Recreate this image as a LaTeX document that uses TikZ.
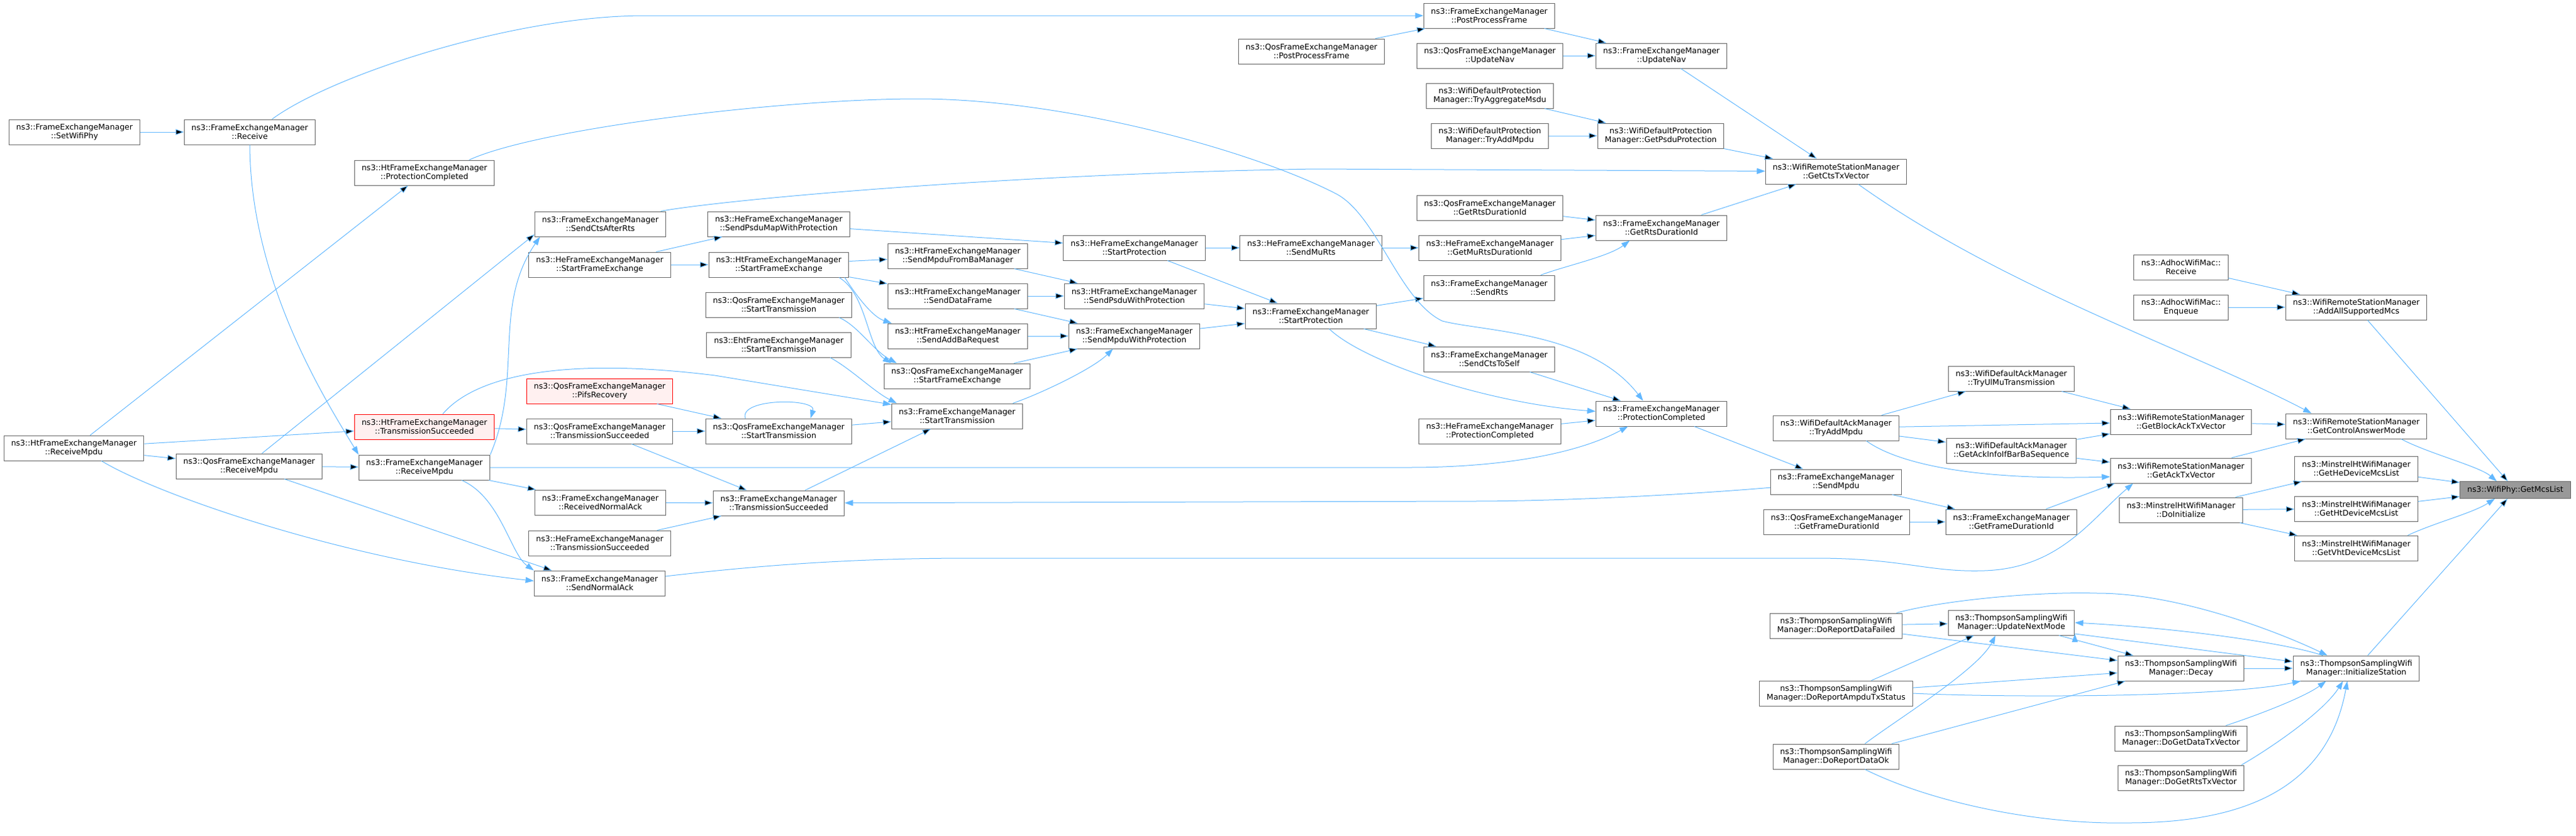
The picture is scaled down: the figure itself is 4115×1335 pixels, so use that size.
\documentclass[tikz,border=0pt]{standalone}
\usepackage{fontspec}
\setmainfont{DejaVu Sans}
\usetikzlibrary{arrows.meta}
\definecolor{edgeblue}{HTML}{63B8FF}
\definecolor{boxgrey}{HTML}{666666}
\definecolor{redfill}{HTML}{FFF0F0}
\definecolor{focusfill}{HTML}{999999}

\begin{document}
\begin{tikzpicture}[x=0.75pt,y=-0.75pt,>={Triangle[length=10pt,width=7pt]},
	fn/.style={draw=boxgrey,fill=white,line width=0.75pt,align=center,inner xsep=8.7pt,inner ysep=0pt,minimum height=30pt,font=\fontsize{9.4}{10.5}\selectfont},
	fnred/.style={fn,draw=red,fill=redfill},
	fnfocus/.style={fn,fill=focusfill,minimum height=20pt},
	call/.style={->,draw=edgeblue,line width=0.75pt}]
	\useasboundingbox (0,0) rectangle (4115,1335);

	\node[fn]    (setwifiphy)      at (119,211)  {ns3::FrameExchangeManager\\::SetWifiPhy};
	\node[fn]    (receive)         at (399,211)  {ns3::FrameExchangeManager\\::Receive};
	\node[fn]    (htprotcompl)     at (678,276)  {ns3::HtFrameExchangeManager\\::ProtectionCompleted};
	\node[fn]    (htreceivempdu)   at (118,716)  {ns3::HtFrameExchangeManager\\::ReceiveMpdu};
	\node[fn]    (qosreceivempdu)  at (398,745)  {ns3::QosFrameExchangeManager\\::ReceiveMpdu};
	\node[fnred] (httxsucc)        at (678,682)  {ns3::HtFrameExchangeManager\\::TransmissionSucceeded};
	\node[fn]    (fereceivempdu)   at (678,747)  {ns3::FrameExchangeManager\\::ReceiveMpdu};
	\node[fn]    (sendctsafterrts) at (959,358)  {ns3::FrameExchangeManager\\::SendCtsAfterRts};
	\node[fn]    (hestartfe)       at (958,423)  {ns3::HeFrameExchangeManager\\::StartFrameExchange};
	\node[fnred] (pifsrecovery)    at (958,625)  {ns3::QosFrameExchangeManager\\::PifsRecovery};
	\node[fn]    (qostxsucc)       at (958,689)  {ns3::QosFrameExchangeManager\\::TransmissionSucceeded};
	\node[fn]    (rcvnormalack)    at (959,803)  {ns3::FrameExchangeManager\\::ReceivedNormalAck};
	\node[fn]    (hetxsucc)        at (958,868)  {ns3::HeFrameExchangeManager\\::TransmissionSucceeded};
	\node[fn]    (sendnormalack)   at (958,932)  {ns3::FrameExchangeManager\\::SendNormalAck};
	\node[fn]    (sendpsdumap)     at (1244,358) {ns3::HeFrameExchangeManager\\::SendPsduMapWithProtection};
	\node[fn]    (htstartfe)       at (1244,423) {ns3::HtFrameExchangeManager\\::StartFrameExchange};
	\node[fn]    (qosstarttx1)     at (1244,487) {ns3::QosFrameExchangeManager\\::StartTransmission};
	\node[fn]    (ehtstarttx)      at (1244,551) {ns3::EhtFrameExchangeManager\\::StartTransmission};
	\node[fn]    (qosstarttx2)     at (1244,689) {ns3::QosFrameExchangeManager\\::StartTransmission};
	\node[fn]    (fetxsucc)        at (1244,804) {ns3::FrameExchangeManager\\::TransmissionSucceeded};
	\node[fn]    (sendmpdufromba)  at (1530,409) {ns3::HtFrameExchangeManager\\::SendMpduFromBaManager};
	\node[fn]    (senddataframe)   at (1530,473) {ns3::HtFrameExchangeManager\\::SendDataFrame};
	\node[fn]    (sendaddba)       at (1530,537) {ns3::HtFrameExchangeManager\\::SendAddBaRequest};
	\node[fn]    (qosstartfe)      at (1529,601) {ns3::QosFrameExchangeManager\\::StartFrameExchange};
	\node[fn]    (festarttx)       at (1529,665) {ns3::FrameExchangeManager\\::StartTransmission};
	\node[fn]    (hestartprot)     at (1812,396) {ns3::HeFrameExchangeManager\\::StartProtection};
	\node[fn]    (sendpsduwp)      at (1812,473) {ns3::HtFrameExchangeManager\\::SendPsduWithProtection};
	\node[fn]    (sendmpduwp)      at (1812,537) {ns3::FrameExchangeManager\\::SendMpduWithProtection};
	\node[fn]    (hesendmurts)     at (2094,396) {ns3::HeFrameExchangeManager\\::SendMuRts};
	\node[fn]    (festartprot)     at (2094,505) {ns3::FrameExchangeManager\\::StartProtection};
	\node[fn]    (qospostproc)     at (2095,82)  {ns3::QosFrameExchangeManager\\::PostProcessFrame};
	\node[fn]    (fepostproc)      at (2379,25)  {ns3::FrameExchangeManager\\::PostProcessFrame};
	\node[fn]    (qosupdatenav)    at (2380,89)  {ns3::QosFrameExchangeManager\\::UpdateNav};
	\node[fn]    (tryaggmsdu)      at (2380,153) {ns3::WifiDefaultProtection\\Manager::TryAggregateMsdu};
	\node[fn]    (protaddmpdu)     at (2380,217) {ns3::WifiDefaultProtection\\Manager::TryAddMpdu};
	\node[fn]    (qosgetrtsdur)    at (2380,332) {ns3::QosFrameExchangeManager\\::GetRtsDurationId};
	\node[fn]    (hegetmurtsdur)   at (2380,396) {ns3::HeFrameExchangeManager\\::GetMuRtsDurationId};
	\node[fn]    (sendrts)         at (2379,460) {ns3::FrameExchangeManager\\::SendRts};
	\node[fn]    (sendctstoself)   at (2379,574) {ns3::FrameExchangeManager\\::SendCtsToSelf};
	\node[fn]    (heprotcompl)     at (2380,689) {ns3::HeFrameExchangeManager\\::ProtectionCompleted};
	\node[fn]    (feupdatenav)     at (2654,89)  {ns3::FrameExchangeManager\\::UpdateNav};
	\node[fn]    (getpsduprot)     at (2653,217) {ns3::WifiDefaultProtection\\Manager::GetPsduProtection};
	\node[fn]    (fegetrtsdur)     at (2654,364) {ns3::FrameExchangeManager\\::GetRtsDurationId};
	\node[fn]    (feprotcompl)     at (2654,661) {ns3::FrameExchangeManager\\::ProtectionCompleted};
	\node[fn]    (getctstx)        at (2933,274) {ns3::WifiRemoteStationManager\\::GetCtsTxVector};
	\node[fn]    (ackaddmpdu)      at (2933,684) {ns3::WifiDefaultAckManager\\::TryAddMpdu};
	\node[fn]    (sendmpdu)        at (2933,770) {ns3::FrameExchangeManager\\::SendMpdu};
	\node[fn]    (qosgetframedur)  at (2934,834) {ns3::QosFrameExchangeManager\\::GetFrameDurationId};
	\node[fn]    (reportfailed)    at (2933,1000) {ns3::ThompsonSamplingWifi\\Manager::DoReportDataFailed};
	\node[fn]    (reportampdu)     at (2933,1108) {ns3::ThompsonSamplingWifi\\Manager::DoReportAmpduTxStatus};
	\node[fn]    (reportok)        at (2933,1209) {ns3::ThompsonSamplingWifi\\Manager::DoReportDataOk};
	\node[fn]    (tryulmu)         at (3213,605) {ns3::WifiDefaultAckManager\\::TryUlMuTransmission};
	\node[fn]    (getackinfo)      at (3213,720) {ns3::WifiDefaultAckManager\\::GetAckInfoIfBarBaSequence};
	\node[fn]    (fegetframedur)   at (3213,834) {ns3::FrameExchangeManager\\::GetFrameDurationId};
	\node[fn]    (updatenextmode)  at (3213,995) {ns3::ThompsonSamplingWifi\\Manager::UpdateNextMode};
	\node[fn]    (adhocreceive)    at (3484,427) {ns3::AdhocWifiMac::\\Receive};
	\node[fn]    (adhocenqueue)    at (3484,491) {ns3::AdhocWifiMac::\\Enqueue};
	\node[fn]    (getblockacktx)   at (3484,674) {ns3::WifiRemoteStationManager\\::GetBlockAckTxVector};
	\node[fn]    (getacktx)        at (3484,752) {ns3::WifiRemoteStationManager\\::GetAckTxVector};
	\node[fn]    (doinitialize)    at (3484,815) {ns3::MinstrelHtWifiManager\\::DoInitialize};
	\node[fn]    (decay)           at (3484,1068) {ns3::ThompsonSamplingWifi\\Manager::Decay};
	\node[fn]    (getdatatx)       at (3484,1180) {ns3::ThompsonSamplingWifi\\Manager::DoGetDataTxVector};
	\node[fn]    (getrtstx)        at (3484,1243) {ns3::ThompsonSamplingWifi\\Manager::DoGetRtsTxVector};
	\node[fn]    (addallmcs)       at (3764,491) {ns3::WifiRemoteStationManager\\::AddAllSupportedMcs};
	\node[fn]    (getctrlanswer)   at (3764,681) {ns3::WifiRemoteStationManager\\::GetControlAnswerMode};
	\node[fn]    (gethemcs)        at (3764,749) {ns3::MinstrelHtWifiManager\\::GetHeDeviceMcsList};
	\node[fn]    (gethtmcs)        at (3764,813) {ns3::MinstrelHtWifiManager\\::GetHtDeviceMcsList};
	\node[fn]    (getvhtmcs)       at (3764,876) {ns3::MinstrelHtWifiManager\\::GetVhtDeviceMcsList};
	\node[fn]    (initstation)     at (3764,1068) {ns3::ThompsonSamplingWifi\\Manager::InitializeStation};
	\node[fnfocus] (getmcslist)    at (4018,783) {ns3::WifiPhy::GetMcsList};

	\draw[call] (setwifiphy) edge (receive)
		(htreceivempdu) edge (htprotcompl) edge (httxsucc) edge (qosreceivempdu)
		(qosreceivempdu) edge (fereceivempdu)
		(qosreceivempdu.45) edge (sendctsafterrts.-171)
		(qosreceivempdu.-20) edge (sendnormalack.165)
		(httxsucc) edge (qostxsucc)
		(qostxsucc) edge (qosstarttx2) edge (fetxsucc)
		(pifsrecovery) edge (qosstarttx2)
		(qosstarttx2) edge (festarttx)
		(fetxsucc) edge (festarttx)
		(rcvnormalack) edge (fetxsucc)
		(hetxsucc) edge (fetxsucc)
		(fereceivempdu) edge (rcvnormalack)
		(hestartfe) edge (htstartfe) edge (sendpsdumap)
		(sendpsdumap) edge (hestartprot)
		(htstartfe) edge (sendmpdufromba) edge (senddataframe)
		(sendmpdufromba) edge (sendpsduwp)
		(senddataframe) edge (sendpsduwp) edge (sendmpduwp)
		(sendaddba) edge (sendmpduwp)
		(qosstartfe) edge (sendmpduwp)
		(hestartprot) edge (festartprot) edge (hesendmurts)
		(sendpsduwp) edge (festartprot)
		(sendmpduwp) edge (festartprot)
		(hesendmurts) edge (hegetmurtsdur)
		(festartprot) edge (sendrts) edge (sendctstoself)
		(sendctstoself) edge (feprotcompl)
		(heprotcompl) edge (feprotcompl)
		(feprotcompl) edge (sendmpdu)
		(fepostproc) edge (feupdatenav)
		(qospostproc) edge (fepostproc)
		(qosupdatenav) edge (feupdatenav)
		(feupdatenav) edge (getctstx)
		(tryaggmsdu) edge (getpsduprot)
		(protaddmpdu) edge (getpsduprot)
		(getpsduprot) edge (getctstx)
		(qosgetrtsdur) edge (fegetrtsdur)
		(hegetmurtsdur) edge (fegetrtsdur)
		(fegetrtsdur) edge (getctstx)
		(adhocreceive) edge (addallmcs)
		(adhocenqueue) edge (addallmcs)
		(addallmcs) edge (getmcslist)
		(gethemcs) edge (getmcslist)
		(gethtmcs) edge (getmcslist)
		(initstation) edge (getmcslist)
		(doinitialize) edge (gethtmcs) edge (getvhtmcs) edge (gethemcs)
		(ackaddmpdu) edge (tryulmu) edge (getblockacktx) edge (getackinfo)
		(tryulmu) edge (getblockacktx)
		(getackinfo) edge (getblockacktx) edge (getacktx)
		(getblockacktx) edge (getctrlanswer)
		(getacktx) edge (getctrlanswer)
		(qosgetframedur) edge (fegetframedur)
		(sendmpdu) edge (fegetframedur)
		(fegetframedur) edge (getacktx.-169)
		(reportfailed) edge (updatenextmode) edge (decay)
		(reportampdu) edge (decay)
		(reportampdu.20) edge (updatenextmode.-161)
		(reportok.13) edge (decay.-167)
		(updatenextmode) edge (decay)
		(updatenextmode.-10) edge (initstation.174)
		(decay) edge (initstation);

	\draw[call] (receive.30) .. controls (530,120) and (820,25) .. (1030,25) -- (fepostproc);
	\draw[call] (receive.south) .. controls (400,450) and (520,640) .. (fereceivempdu.169);
	\draw[call] (htreceivempdu.-25) .. controls (250,790) and (550,895) .. (sendnormalack.178);
	\draw[call] (fereceivempdu.11) .. controls (836,603) and (786,490) .. (sendctsafterrts.-168);
	\draw[call] (fereceivempdu.-19) .. controls (800,795) and (815,885) .. (sendnormalack.169);
	\draw[call] (fereceivempdu) -- (2250,747) .. controls (2400,747) and (2520,725) .. (feprotcompl.-159);
	\draw[call] (httxsucc.35) .. controls (760,600) and (900,570) .. (1142,600) -- (festarttx.170);
	\draw[call] (qosstarttx2.159) .. controls (1180,636) and (1305,636) .. (qosstarttx2.22);
	\draw[call] (sendmpdu.-175) .. controls (2700,790) and (2500,801) .. (2350,801) -- (fetxsucc);
	\draw[call] (sendnormalack.6) .. controls (1200,905) and (1350,892) .. (1550,892) -- (2900,892) .. controls (3040,892) and (3080,915) .. (3170,912) .. controls (3290,908) and (3340,830) .. (getacktx.-165);
	\draw[call] (htstartfe.-11) .. controls (1360,460) and (1390,505) .. (sendaddba.169);
	\draw[call] (htstartfe.-12) .. controls (1385,470) and (1385,555) .. (qosstartfe.169);
	\draw[call] (qosstarttx1.-12) .. controls (1370,520) and (1395,560) .. (qosstartfe.168);
	\draw[call] (ehtstarttx.-14) .. controls (1360,590) and (1395,625) .. (festarttx.168);
	\draw[call] (festarttx.13) .. controls (1660,630) and (1745,590) .. (sendmpduwp.-149);
	\draw[call] (festartprot.-35) .. controls (2180,580) and (2380,645) .. (feprotcompl.178);
	\draw[call] (htprotcompl.16) .. controls (860,205) and (1250,158) .. (1466,158) .. controls (1700,158) and (2000,240) .. (2135,310) .. controls (2200,345) and (2235,480) .. (2304,513) .. controls (2370,530) and (2540,530) .. (feprotcompl.145);
	\draw[call] (sendctsafterrts.12) .. controls (1150,320) and (1600,278) .. (2100,270) -- (getctstx);
	\draw[call] (sendrts.14) .. controls (2500,425) and (2570,410) .. (fegetrtsdur.-158);
	\draw[call] (getctstx.-30) .. controls (3200,460) and (3500,560) .. (getctrlanswer.164);
	\draw[call] (getctrlanswer.-16) .. controls (3880,725) and (3960,745) .. (getmcslist.155);
	\draw[call] (getvhtmcs.14) .. controls (3890,835) and (3950,820) .. (getmcslist.-157);
	\draw[call] (ackaddmpdu.-23) .. controls (3030,740) and (3150,768) .. (getacktx.-175);
	\draw[call] (reportfailed.12) .. controls (3100,960) and (3250,945) .. (3350,948) .. controls (3480,948) and (3640,1010) .. (initstation.156);
	\draw[call] (reportampdu.east) .. controls (3200,1115) and (3550,1115) .. (initstation.-167);
	\draw[call] (reportok.24) .. controls (3030,1150) and (3160,1070) .. (updatenextmode.-141);
	\draw[call] (reportok.-24) .. controls (3080,1280) and (3250,1318) .. (3400,1315) .. controls (3600,1315) and (3720,1250) .. (initstation.-125);
	\draw[call] (initstation.159) .. controls (3660,1030) and (3500,1005) .. (updatenextmode.east);
	\draw[call] (getdatatx.16) .. controls (3600,1145) and (3680,1115) .. (initstation.-157);
	\draw[call] (getrtstx.12) .. controls (3620,1200) and (3710,1140) .. (initstation.-136);
\end{tikzpicture}
\end{document}
